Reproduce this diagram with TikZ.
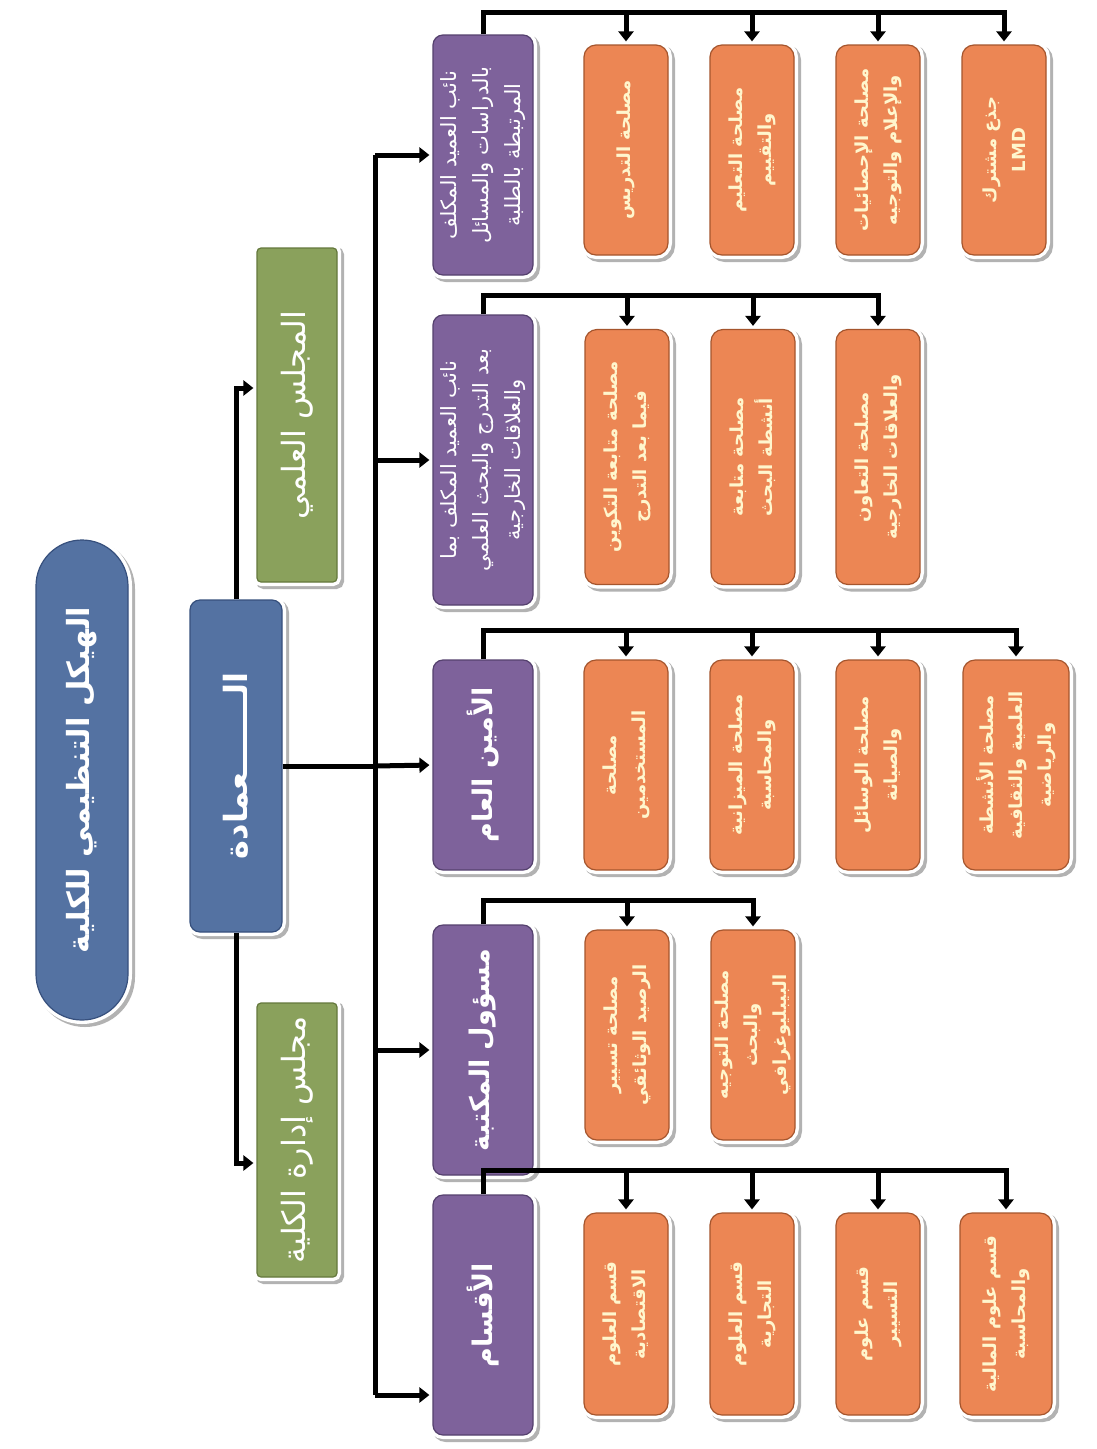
\documentclass[tikz,border=0pt]{standalone}
\usepackage{fontspec}
\newfontfamily\arabicfont[Script=Arabic]{DejaVu Sans}
\TeXXeTstate=1
\usetikzlibrary{arrows.meta,calc}
\newcommand{\ar}[1]{\beginR #1\endR}
\definecolor{bluefill}{RGB}{84,114,162}
\definecolor{blueline}{RGB}{55,80,125}
\definecolor{greenfill}{RGB}{138,161,92}
\definecolor{greenline}{RGB}{100,120,60}
\definecolor{purplefill}{RGB}{126,98,155}
\definecolor{purpleline}{RGB}{85,65,110}
\definecolor{orfill}{RGB}{236,134,84}
\definecolor{orline}{RGB}{165,85,45}
\definecolor{cream}{RGB}{255,246,205}
\tikzset{
  frame/.style={rotate=90, align=center, text=white, inner sep=1pt, line width=1.2pt,
    preaction={draw=black!30, line width=8pt, transform canvas={xshift=3pt,yshift=-3pt}},
    preaction={draw=white, line width=8pt}},
  titlebox/.style={frame, fill=bluefill, draw=blueline, rounded corners=46pt,
    minimum width=480pt, minimum height=92pt, font=\arabicfont\bfseries\fontsize{30.5}{38}\selectfont},
  deanbox/.style={frame, fill=bluefill, draw=blueline, rounded corners=10pt,
    minimum width=332pt, minimum height=92pt, font=\arabicfont\bfseries\fontsize{32}{38}\selectfont},
  councilbox/.style={frame, fill=greenfill, draw=greenline, rounded corners=4pt,
    minimum height=80pt, font=\arabicfont\fontsize{32}{38}\selectfont},
  purplebox/.style={frame, fill=purplefill, draw=purpleline, rounded corners=10pt,
    minimum height=100pt, font=\arabicfont\bfseries\fontsize{27}{36}\selectfont},
  purplesmall/.style={purplebox, font=\arabicfont\fontsize{21}{32}\selectfont},
  orangebox/.style={frame, fill=orfill, draw=orline, rounded corners=12pt, text=cream,
    minimum height=84pt, font=\arabicfont\bfseries\fontsize{18}{29}\selectfont},
  conn/.style={line width=5pt, black},
  arr/.style={conn, -{Triangle[width=15pt,length=10pt]}, shorten >=3pt},
}
\begin{document}
\begin{tikzpicture}[x=1pt,y=-1pt]
\fill[white] (0,0) rectangle (1096,1449);
\path[use as bounding box] (0,0) rectangle (1096,1449);

% title and top level
\node[titlebox] (title) at (82,780) {\ar{الهيكل التنظيمي للكلية}};
\node[deanbox] (dean) at (236,766) {\ar{الـــــــعمادة}};
\node[councilbox, minimum width=334pt] (sci) at (297,415) {\ar{المجلس العلمي}};
\node[councilbox, minimum width=274pt] (adm) at (297,1140) {\ar{مجلس إدارة الكلية}};

% purple boxes
\node[purplesmall, minimum width=240pt] (p1) at (483,155)
  {\ar{نائب العميد المكلف}\\\ar{بالدراسات والمسائل}\\\ar{المرتبطة بالطلبة}};
\node[purplesmall, minimum width=290pt] (p2) at (483,460)
  {\ar{نائب العميد المكلف بما}\\\ar{بعد التدرج والبحث العلمي}\\\ar{والعلاقات الخارجية}};
\node[purplebox, minimum width=210pt] (p3) at (483,765) {\ar{الأمين العام}};
\node[purplebox, minimum width=250pt] (p4) at (483,1050) {\ar{مسؤول المكتبة}};
\node[purplebox, minimum width=240pt] (p5) at (483,1315) {\ar{الأقسام}};

% group 1
\node[orangebox, minimum width=210pt] (o11) at (626,150) {\ar{مصلحة التدريس}};
\node[orangebox, minimum width=210pt] (o12) at (752,150) {\ar{مصلحة التعليم}\\\ar{والتقييم}};
\node[orangebox, minimum width=210pt] (o13) at (878,150) {\ar{مصلحة الإحصائيات}\\\ar{والإعلام والتوجيه}};
\node[orangebox, minimum width=210pt] (o14) at (1004,150) {\ar{جذع مشترك}\\LMD};
% group 2
\node[orangebox, minimum width=255pt] (o21) at (627,457) {\ar{مصلحة متابعة التكوين}\\\ar{فيما بعد التدرج}};
\node[orangebox, minimum width=255pt] (o22) at (753,457) {\ar{مصلحة متابعة}\\\ar{أنشطة البحث}};
\node[orangebox, minimum width=255pt] (o23) at (878,457) {\ar{مصلحة التعاون}\\\ar{والعلاقات الخارجية}};
% group 3
\node[orangebox, minimum width=210pt] (o31) at (626,765) {\ar{مصلحة}\\\ar{المستخدمين}};
\node[orangebox, minimum width=210pt] (o32) at (752,765) {\ar{مصلحة الميزانية}\\\ar{والمحاسبة}};
\node[orangebox, minimum width=210pt] (o33) at (878,765) {\ar{مصلحة الوسائل}\\\ar{والصيانة}};
\node[orangebox, minimum width=210pt, minimum height=106pt] (o34) at (1016,765) {\ar{مصلحة الأنشطة}\\\ar{العلمية والثقافية}\\\ar{والرياضية}};
% group 4
\node[orangebox, minimum width=210pt] (o41) at (627,1035) {\ar{مصلحة تسيير}\\\ar{الرصيد الوثائقي}};
\node[orangebox, minimum width=210pt] (o42) at (753,1035) {\ar{مصلحة التوجيه}\\\ar{والبحث}\\\ar{البيبليوغرافي}};
% group 5
\node[orangebox, minimum width=202pt] (o51) at (626,1314) {\ar{قسم العلوم}\\\ar{الاقتصادية}};
\node[orangebox, minimum width=202pt] (o52) at (752,1314) {\ar{قسم العلوم}\\\ar{التجارية}};
\node[orangebox, minimum width=202pt] (o53) at (878,1314) {\ar{قسم علوم}\\\ar{التسيير}};
\node[orangebox, minimum width=202pt, minimum height=92pt] (o54) at (1006,1314) {\ar{قسم علوم المالية}\\\ar{والمحاسبة}};

% dean to councils
\draw[arr] (dean.east) |- ($(sci.north)+(0,-27)$);
\draw[arr] (dean.west) |- ($(adm.north)+(0,23)$);

% spine
\coordinate (s1) at (375,155);
\coordinate (s2) at (375,460);
\coordinate (s3) at (375,766);
\coordinate (s4) at (375,1050);
\coordinate (s5) at (375,1395);
\draw[conn] (dean.south) -- (s3);
\draw[conn] (s1) -- (s5);
\draw[arr] (s1) -- (p1.north);
\draw[arr] (s2) -- (p2.north);
\draw[arr] (s3) -- (p3.north);
\draw[arr] (s4) -- (p4.north);
\draw[arr] (s5) -- (s5 -| p5.north);

% group brackets
\coordinate (b1) at (483,12);
\coordinate (b2) at (483,295);
\coordinate (b3) at (483,630);
\coordinate (b4) at (483,900);
\coordinate (b5) at (483,1170);
\draw[arr] (p1.east) -- (b1) -| (o14.east);
\draw[arr] (b1 -| o11.east) -- (o11.east);
\draw[arr] (b1 -| o12.east) -- (o12.east);
\draw[arr] (b1 -| o13.east) -- (o13.east);
\draw[arr] (p2.east) -- (b2) -| (o23.east);
\draw[arr] (b2 -| o21.east) -- (o21.east);
\draw[arr] (b2 -| o22.east) -- (o22.east);
\draw[arr] (p3.east) -- (b3) -| (o34.east);
\draw[arr] (b3 -| o31.east) -- (o31.east);
\draw[arr] (b3 -| o32.east) -- (o32.east);
\draw[arr] (b3 -| o33.east) -- (o33.east);
\draw[arr] (p4.east) -- (b4) -| (o42.east);
\draw[arr] (b4 -| o41.east) -- (o41.east);
\draw[arr] (p5.east) -- (b5) -| (o54.east);
\draw[arr] (b5 -| o51.east) -- (o51.east);
\draw[arr] (b5 -| o52.east) -- (o52.east);
\draw[arr] (b5 -| o53.east) -- (o53.east);
\end{tikzpicture}
\end{document}
